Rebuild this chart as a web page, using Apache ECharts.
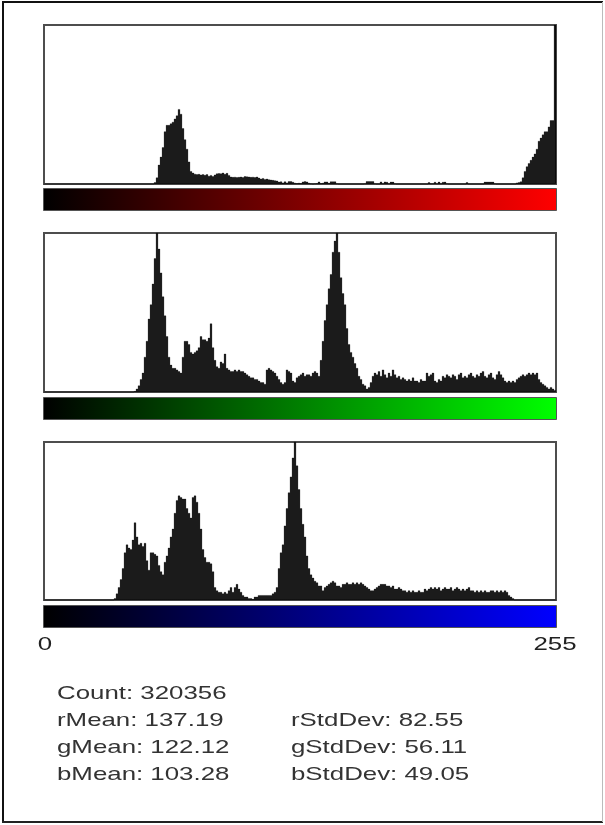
<!DOCTYPE html>
<html>
<head>
<meta charset="utf-8">
<script src="https://cdn.jsdelivr.net/npm/echarts@6/dist/echarts.min.js"></script>
<style>
html,body{margin:0;padding:0;background:#fff;}
#chart{width:605px;height:825px;}
</style>
</head>
<body>
<div id="chart"></div>
<script>
// ---- DATA ----
const bins = [];
for (let i = 0; i < 256; i++) bins.push(String(i));
const axisTickLabels = ['0', '255'];

const redCounts = [
  0,0,0,0,0,0,0,0,0,0, 0,0,0,0,0,0,0,0,0,0, 0,0,0,0,0,0,0,0,0,0,
  0,0,0,0,0,0,0,0,0,0, 0,0,0,0,0,0,0,0,0,0, 0,0,0,0,0,
  1,4,12,17,23,33,37,37,38,39,41,43,47,44,35,28,22,14,8,7,
  6.3,6,6.2,5.8,6,5.6,6,5,5.5,4.8,5.8,6.5,6.7,6.5,7,6.2,6.8,5.5,4.5,4.3,
  4.4,4.2,4.3,4.5,4.2,4.8,4.6,4.5,4.3,4.4,4.2,4.5,3.8,3.2,3.6,3,3.2,2.8,2.6,2.4,2.2,2,
  1.3,1.5,0.8,1.5,0.8,1.6,1.6,1.2,0.6,0.4,0.6,0.4,1.4,1.6,1.4,0.6,0.3,0,0.3,0.4,
  1.4,0.4,0.6,1.4,1.4,0.5,1.5,1.5,1.5,0.3, 0,0,0,0,0,0,0,0,0,0,0,0,0, 0.3,
  1.6,1.6,1.6,1.6,0.3,0,0,
  1.4,0.3,1.4,1.2,0.3,1.3,1.3,0.3, 0,0,0,0,0,0,0,0,0,0,0,0,0,0,0,0,
  1,0.3,0.3,1.2,0.3,1.3,0.3,1.2,1.3,0.3, 0,0,0,0,0,0,0,0,0,
  1,0,0,0,0,0,0,0,0,
  1.3,1.3,1.3,1.3,1.3,0.3, 0,0,0,0,0,0,0,0,0,0,
  0.8,1,1.5,4,8,11,13,15,17,19,22,27,29,31,33,33,36,40,40,120
];

const greenCounts = [
  0,0,0,0,0,0,0,0,0,0, 0,0,0,0,0,0,0,0,0,0, 0,0,0,0,0,0,0,0,0,0,
  0,0,0,0,0,0,0,0,0,0, 0,0,0,0,0,
  0.5,2,4,8,12,22,32,46,55,68,
  84,100,90,75,60,48,35,22,17,15,
  15,14,13,12,22,32,32,30,25,24,
  25,26,28,35,33,33,32,34,43,28,
  20,16,15,19,18,
  24,15,14,13,13,14,13,14,13,13,
  12,11,10,9,9,8,8,7,6,6,
  5,14,15,14,13,12,10,8,6,5,
  6,14,13,12,7,6,9,10,11,12,
  10,11,11,10,12,13,12,10,20,32,
  45,55,65,74,88,95,100,88,72,62,
  55,40,30,25,22,18,15,10,8,5,
  4,2,3,6,10,12,11,13,10,14,
  11,9,12,10,14,11,9,10,8,9,
  8,7,8,7,9,7,7,6,8,7,
  7,12,10,11,12,7,6,8,7,10,
  9,11,10,9,11,10,8,11,12,9,
  10,9,11,12,10,9,11,10,12,13,
  10,9,11,12,9,8,11,13,11,9,
  7,6,7,6,7,6,8,9,10,11,
  10,11,12,11,12,11,12,8,6,5,
  4,3,2,3,2,1
];

const blueCounts = [
  0,0,0,0,0,0,0,0,0,0, 0,0,0,0,0,0,0,0,0,0, 0,0,0,0,0,0,0,0,0,0,
  0,0,0,0,0,
  1,4,8,13,20,30,35,33,32,38,
  49,40,35,36,34,36,25,19,30,30,
  29,28,22,18,16,24,28,33,40,45,
  55,63,66,65,64,64,58,55,52,65,
  66,62,55,45,32,27,24,24,23,18,
  8,6,5,5,4,5,4,6,8,5,
  8,10,7,5,3,2,2,1,1,0.5,
  2,2,3,3,3,3,3,3,3,4,
  5,8,20,30,35,47,58,68,78,90,
  100,85,70,58,48,40,28,20,16,14,
  12,11,9,9,6,8,9,10,11,12,
  11,9,9,8,10,10,11,10,10,11,
  10,11,10,11,10,9,8,7,6,6,
  7,8,9,10,10,10,9,9,8,9,
  7,7,8,7,6,6,5,6,5,6,
  5,5,6,5,5,7,6,7,8,7,
  8,7,8,6,7,8,7,7,8,6,
  7,8,7,6,7,6,7,8,6,6,
  5,6,5,6,5,6,5,5,6,6,
  5,6,5,6,5,6,5,3,2,1,
  0,0,0,0,0,0,0,0,0,0, 0,0,0,0,0,0,0,0,0,0, 0
];

const statsLeft = ['Count: 320356', 'rMean: 137.19', 'gMean: 122.12', 'bMean: 103.28'];
const statsRight = ['', 'rStdDev: 82.55', 'gStdDev: 56.11', 'bStdDev: 49.05'];
const rampEndColors = ['#ff0000', '#00ff00', '#0000ff'];

// ---- CHART ----
const chart = echarts.init(document.getElementById('chart'), null, {renderer: 'canvas'});
const FONT = '"Liberation Sans", Arial, sans-serif';
const TEXT_FONT = '19px ' + FONT;
const TEXT_SCALE_X = 1.36;

const panels = [
  {top: 25, height: 159, rampY: 188},
  {top: 233, height: 159, rampY: 397},
  {top: 442, height: 158, rampY: 605}
];
const seriesData = [redCounts, greenCounts, blueCounts];

const grids = panels.map(p => ({
  left: 44, width: 512, top: p.top, height: p.height,
  show: true, borderColor: '#4d4d4d', borderWidth: 2, backgroundColor: 'transparent'
}));

const xAxes = panels.map((p, i) => ({
  type: 'category', gridIndex: i, data: bins, boundaryGap: true,
  axisLine: {show: false}, axisTick: {show: false}, splitLine: {show: false},
  axisLabel: {show: false}
}));

const yAxes = panels.map((p, i) => ({
  type: 'value', gridIndex: i, min: 0, max: 100,
  show: false, splitLine: {show: false}
}));

const series = seriesData.map((d, i) => ({
  type: 'bar', xAxisIndex: i, yAxisIndex: i, data: d,
  barWidth: '100%', barCategoryGap: '0%', clip: true,
  itemStyle: {color: '#000', borderColor: '#000', borderWidth: 0.3},
  emphasis: {disabled: true}, silent: true
}));

const graphics = [];
panels.forEach((p, i) => {
  graphics.push({
    type: 'rect', silent: true,
    shape: {x: 43.5, y: p.rampY + 0.5, width: 513, height: 22},
    style: {
      fill: new echarts.graphic.LinearGradient(0, 0, 1, 0, [
        {offset: 0, color: '#000000'}, {offset: 1, color: rampEndColors[i]}
      ]),
      stroke: '#555', lineWidth: 1
    }
  });
});
statsLeft.forEach((t, k) => {
  graphics.push({type: 'text', silent: true, x: 57, y: 694 + k * 27, scaleX: TEXT_SCALE_X,
    style: {text: t, font: TEXT_FONT, fill: '#333', verticalAlign: 'middle'}});
});
statsRight.forEach((t, k) => {
  if (!t) return;
  graphics.push({type: 'text', silent: true, x: 291, y: 694 + k * 27, scaleX: TEXT_SCALE_X,
    style: {text: t, font: TEXT_FONT, fill: '#333', verticalAlign: 'middle'}});
});
// outer frame
graphics.push({type: 'line', silent: true, shape: {x1: 3, y1: 2, x2: 603, y2: 2}, style: {stroke: '#111', lineWidth: 2}});
graphics.push({type: 'line', silent: true, shape: {x1: 3, y1: 1, x2: 3, y2: 823}, style: {stroke: '#111', lineWidth: 2}});
graphics.push({type: 'line', silent: true, shape: {x1: 2, y1: 822, x2: 603, y2: 822}, style: {stroke: '#222', lineWidth: 2}});
graphics.push({type: 'line', silent: true, shape: {x1: 602.5, y1: 2, x2: 602.5, y2: 822}, style: {stroke: '#bbb', lineWidth: 1}});

chart.setOption({
  animation: false,
  backgroundColor: '#fff',
  grid: grids,
  xAxis: xAxes,
  yAxis: yAxes,
  series: series,
  graphic: graphics
});

// axis end labels (0 and 255) placed through the bottom panel's x scale
const labelGraphics = axisTickLabels.map(lbl => {
  const px = chart.convertToPixel({xAxisIndex: 2, yAxisIndex: 2}, [lbl, 0]);
  return {type: 'text', silent: true, x: px[0], y: 645, scaleX: TEXT_SCALE_X,
    style: {text: lbl, font: TEXT_FONT, fill: '#222', align: 'center', verticalAlign: 'middle'}};
});
chart.setOption({graphic: graphics.concat(labelGraphics)});
</script>
</body>
</html>
